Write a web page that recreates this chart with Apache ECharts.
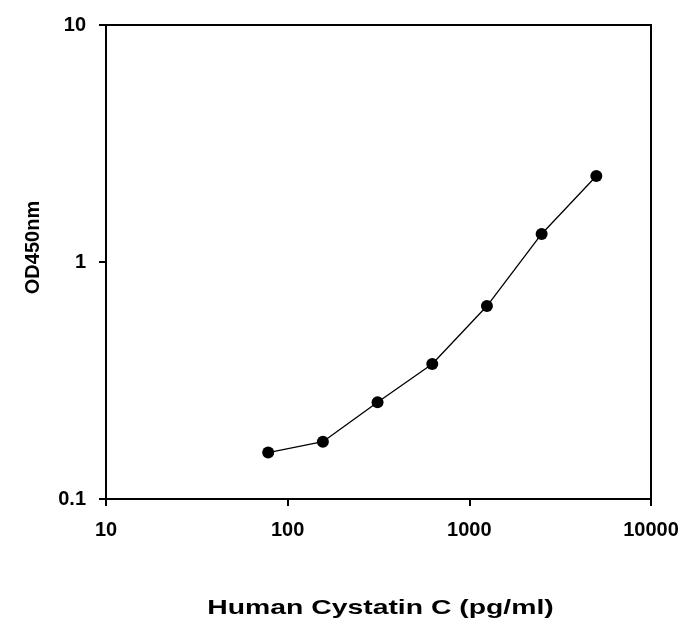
<!DOCTYPE html>
<html><head><meta charset="utf-8">
<script src="https://cdn.jsdelivr.net/npm/echarts@6/dist/echarts.min.js"></script>
<style>html,body{margin:0;padding:0;background:#fff}#c{width:686px;height:621px}</style>
</head><body><div id="c"></div>
<script>
const concentrations = [78.125, 156.25, 312.5, 625, 1250, 2500, 5000];
const odValues = [0.157, 0.1745, 0.256, 0.371, 0.652, 1.313, 2.305];
const xTitle = 'Human Cystatin C (pg/ml)';
const yTitle = 'OD450nm';

const chart = echarts.init(document.getElementById('c'));
const font = 'Liberation Sans, Arial, sans-serif';
chart.setOption({
  backgroundColor: '#fff',
  animation: false,
  grid: {left: 106, right: 35, top: 25, bottom: 122, show: true, borderColor: '#000', borderWidth: 2, backgroundColor: 'transparent'},
  xAxis: {
    type: 'log', logBase: 10, min: 10, max: 10000,
    axisLine: {show: true, lineStyle: {color: '#000', width: 2}},
    axisTick: {show: true, inside: false, length: 7, lineStyle: {color: '#000', width: 2}},
    minorTick: {show: false},
    splitLine: {show: false},
    axisLabel: {color: '#000', fontFamily: font, fontWeight: 'bold', fontSize: 20, margin: 21,
      formatter: v => String(Math.round(v))}
  },
  yAxis: {
    type: 'log', logBase: 10, min: 0.1, max: 10,
    axisLine: {show: true, lineStyle: {color: '#000', width: 2}},
    axisTick: {show: true, inside: false, length: 7, lineStyle: {color: '#000', width: 2}},
    splitLine: {show: false},
    axisLabel: {color: '#000', fontFamily: font, fontWeight: 'bold', fontSize: 20, margin: 20,
      formatter: v => (v < 1 ? v.toFixed(1) : String(Math.round(v)))}
  },
  graphic: [
    {type: 'text', x: 380.5, y: 608, scaleX: 1.35,
      style: {text: xTitle, align: 'center', verticalAlign: 'middle', fill: '#000',
        font: 'bold 21px Liberation Sans, Arial, sans-serif'}},
    {type: 'text', x: 33, y: 247.5, rotation: Math.PI / 2,
      style: {text: yTitle, align: 'center', verticalAlign: 'middle', fill: '#000',
        font: 'bold 20px Liberation Sans, Arial, sans-serif'}}
  ],
  series: [{
    type: 'line',
    data: concentrations.map((c, i) => [c, odValues[i]]),
    symbol: 'circle', symbolSize: 12,
    itemStyle: {color: '#000'},
    lineStyle: {color: '#000', width: 1.3}
  }]
});
</script></body></html>
